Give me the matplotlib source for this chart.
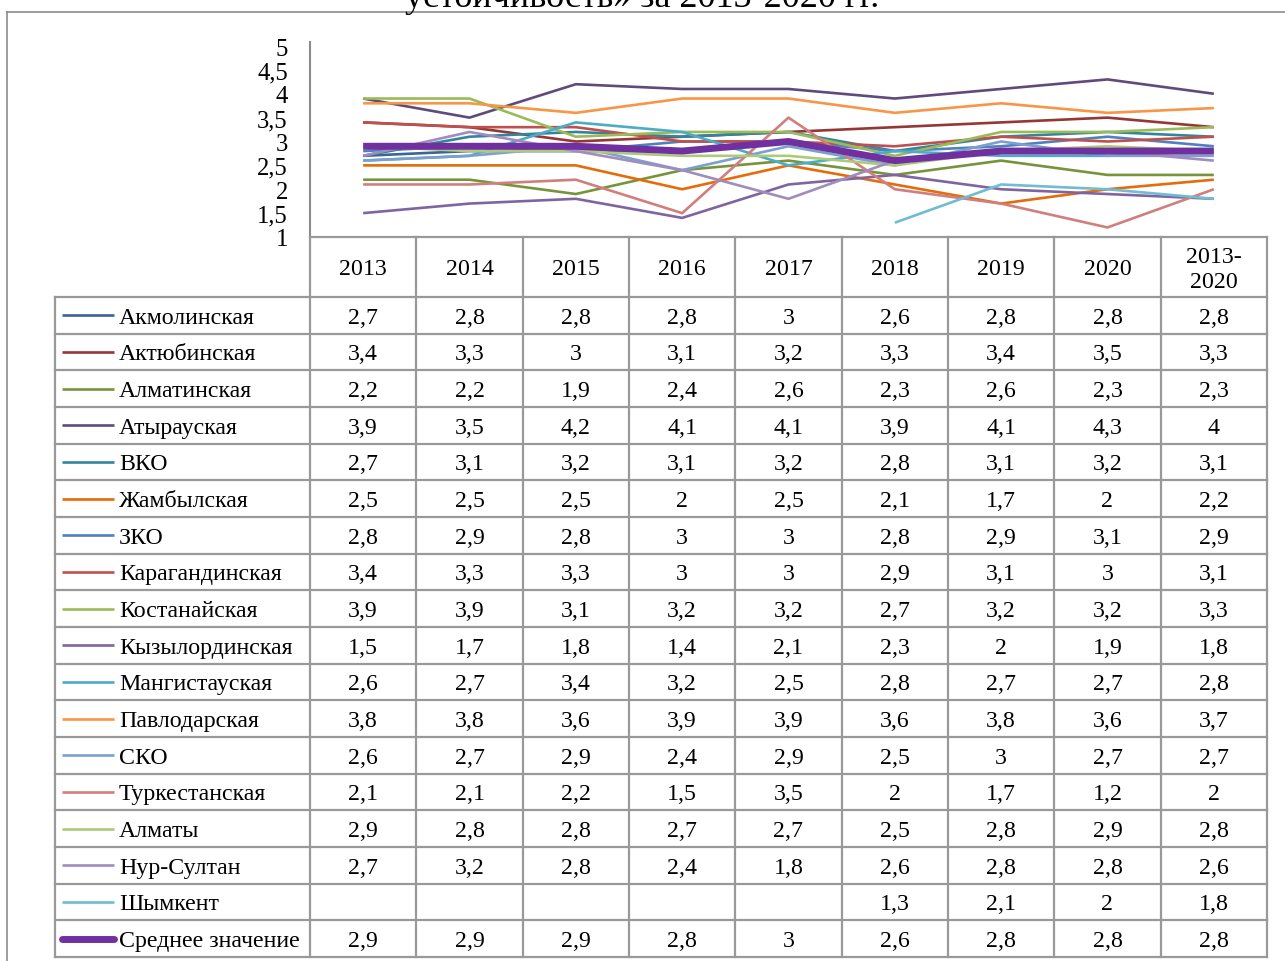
import numpy as np
import matplotlib
matplotlib.use("Agg")
import matplotlib.pyplot as plt
from matplotlib.ticker import FuncFormatter

plt.rcParams['font.family'] = ['Liberation Serif', 'DejaVu Serif']

years = ['2013', '2014', '2015', '2016', '2017', '2018', '2019', '2020', '2013-\n2020']
regions = ['Акмолинская', 'Актюбинская', 'Алматинская', 'Атырауская', 'ВКО',
           'Жамбылская', 'ЗКО', 'Карагандинская', 'Костанайская', 'Кызылординская',
           'Мангистауская', 'Павлодарская', 'СКО', 'Туркестанская', 'Алматы',
           'Нур-Султан', 'Шымкент', 'Среднее значение']
nan = np.nan
akmola = [2.7, 2.8, 2.8, 2.8, 3, 2.6, 2.8, 2.8, 2.8]
aktobe = [3.4, 3.3, 3, 3.1, 3.2, 3.3, 3.4, 3.5, 3.3]
almaty_obl = [2.2, 2.2, 1.9, 2.4, 2.6, 2.3, 2.6, 2.3, 2.3]
atyrau = [3.9, 3.5, 4.2, 4.1, 4.1, 3.9, 4.1, 4.3, 4]
vko = [2.7, 3.1, 3.2, 3.1, 3.2, 2.8, 3.1, 3.2, 3.1]
zhambyl = [2.5, 2.5, 2.5, 2, 2.5, 2.1, 1.7, 2, 2.2]
zko = [2.8, 2.9, 2.8, 3, 3, 2.8, 2.9, 3.1, 2.9]
karaganda = [3.4, 3.3, 3.3, 3, 3, 2.9, 3.1, 3, 3.1]
kostanay = [3.9, 3.9, 3.1, 3.2, 3.2, 2.7, 3.2, 3.2, 3.3]
kyzylorda = [1.5, 1.7, 1.8, 1.4, 2.1, 2.3, 2, 1.9, 1.8]
mangystau = [2.6, 2.7, 3.4, 3.2, 2.5, 2.8, 2.7, 2.7, 2.8]
pavlodar = [3.8, 3.8, 3.6, 3.9, 3.9, 3.6, 3.8, 3.6, 3.7]
sko = [2.6, 2.7, 2.9, 2.4, 2.9, 2.5, 3, 2.7, 2.7]
turkestan = [2.1, 2.1, 2.2, 1.5, 3.5, 2, 1.7, 1.2, 2]
almaty = [2.9, 2.8, 2.8, 2.7, 2.7, 2.5, 2.8, 2.9, 2.8]
nur_sultan = [2.7, 3.2, 2.8, 2.4, 1.8, 2.6, 2.8, 2.8, 2.6]
shymkent = [nan, nan, nan, nan, nan, 1.3, 2.1, 2, 1.8]
mean_val = [2.9, 2.9, 2.9, 2.8, 3, 2.6, 2.8, 2.8, 2.8]

series = [akmola, aktobe, almaty_obl, atyrau, vko, zhambyl, zko, karaganda, kostanay,
          kyzylorda, mangystau, pavlodar, sko, turkestan, almaty, nur_sultan, shymkent, mean_val]
colors = ['#3A6596', '#953735', '#77933C', '#604A7B', '#31859C', '#E46C0A',
          '#4F81BD', '#C0504D', '#9BBB59', '#8064A2', '#4BACC6', '#F79646',
          '#7BA0CD', '#D07F7D', '#AFC97A', '#A08CBD', '#70BCD2', '#7030A0']

W, H = 1285, 962
fs = 17.2
fig = plt.figure(figsize=(W / 100, H / 100), dpi=100)

def fx(x):
    return x / W

def fy(y):
    return 1 - y / H

# plot area (pixel layout)
x0, x1 = 310, 1267
ytop, ybot = 47, 238
ax = fig.add_axes([fx(x0), fy(ybot), (x1 - x0) / W, (ybot - ytop) / H])
ax.set_xlim(-0.5, len(years) - 0.5)
ax.set_ylim(1, 5)
ax.set_yticks(np.arange(1, 5.01, 0.5))
ax.yaxis.set_major_formatter(FuncFormatter(lambda v, p: f"{v:g}".replace('.', ',')))
ax.tick_params(axis='y', length=0, pad=16, labelsize=fs + 0.5)
ax.set_xticks([])
for s in ['top', 'right', 'bottom']:
    ax.spines[s].set_visible(False)
ax.spines['left'].set_color('#8C8C8C')
ax.spines['left'].set_linewidth(1.5)
ax.spines['left'].set_bounds(1, 5.08)
ax.patch.set_alpha(0)

xs = np.arange(len(years))
for i, (vals, c) in enumerate(zip(series, colors)):
    lw = 5 if i == len(series) - 1 else 1.9
    ax.plot(xs, vals, color=c, lw=lw, solid_capstyle='butt', zorder=2 + i)

# overlay in pixel coordinates for the data table
ov = fig.add_axes([0, 0, 1, 1])
ov.set_xlim(0, W)
ov.set_ylim(H, 0)
ov.axis('off')

gc = '#999999'
glw = 1.6
colw = (x1 - x0) / len(years)
hdr_bot = 298
rowh = (958 - hdr_bot) / len(regions)
lab_x0 = 55

# outer chart border
ov.plot([7, W], [13, 13], color='#8C8C8C', lw=1.2)
ov.plot([7, 7], [13, H], color='#8C8C8C', lw=1.2)

# header row
ov.plot([x0, x1], [ybot, ybot], color=gc, lw=glw)
for j in range(len(years) + 1):
    ov.plot([x0 + j * colw] * 2, [ybot, 958], color=gc, lw=glw)
for j, yr in enumerate(years):
    ov.text(x0 + (j + 0.5) * colw, (ybot + hdr_bot) / 2 + 2, yr, ha='center', va='center',
            fontsize=fs, linespacing=1.25)

# body rows
ov.plot([lab_x0, lab_x0], [hdr_bot, 958], color=gc, lw=glw)
for r in range(len(regions) + 1):
    yy = hdr_bot + r * rowh
    ov.plot([lab_x0, x1], [yy, yy], color=gc, lw=glw)

for r, (name, vals, c) in enumerate(zip(regions, series, colors)):
    yc = hdr_bot + (r + 0.5) * rowh
    lw = 5 if r == len(regions) - 1 else 1.9
    ov.plot([62, 114], [yc, yc], color=c, lw=lw, solid_capstyle='round' if lw > 2 else 'butt')
    ov.text(119, yc + 2, name, ha='left', va='center', fontsize=fs)
    for j, v in enumerate(vals):
        if np.isnan(v):
            continue
        ov.text(x0 + (j + 0.5) * colw, yc + 2, f"{v:g}".replace('.', ','),
                ha='center', va='center', fontsize=fs)

# title cut at the top edge
fig.text(fx(642), fy(7), 'устойчивость» за 2013-2020 гг.', ha='center', va='baseline',
         fontsize=26)

fig.savefig('out.png', dpi=100)
